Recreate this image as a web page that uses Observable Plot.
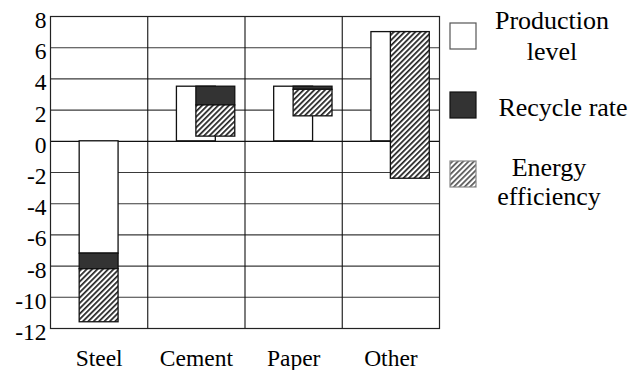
<!DOCTYPE html>
<html><head><meta charset="utf-8">
<script src="https://cdn.jsdelivr.net/npm/d3@7"></script>
<script src="https://cdn.jsdelivr.net/npm/@observablehq/plot@0.6"></script>
<style>
html,body{margin:0;padding:0;background:#fff;}
#wrap{position:relative;width:640px;height:370px;}
#legend{position:absolute;left:0;top:0;pointer-events:none;}
</style></head><body><div id="wrap"></div>
<script>
const categories = ["Steel", "Cement", "Paper", "Other"];
const production = [-7.2, 3.5, 3.5, 7.0];
const recycle = [-1.0, -1.2, -0.2, 0];
const energy = [-3.4, -2.0, -1.7, -9.4];
const yTicks = [-12, -10, -8, -6, -4, -2, 0, 2, 4, 6, 8];
const legendLines = [["Production", "level"], ["Recycle rate"], ["Energy", "efficiency"]];

const FONT = "'Liberation Serif', 'Times New Roman', serif";
const FS = 23.5;
const halfW = 0.2;   // half bar width, in category units
const shiftW = 0.2;  // sideways offset of the change bars when they oppose production

const rows = categories.map((c, i) => {
  const p = production[i], r = recycle[i], e = energy[i];
  const shift = Math.sign(r + e) !== Math.sign(p) ? shiftW : 0;
  const cx = i + 0.5;
  return {c, p, r, e, cx, sx: cx + shift};
});

const chart = Plot.plot({
  width: 640, height: 370,
  marginLeft: 50, marginRight: 201, marginTop: 16, marginBottom: 42,
  style: {fontFamily: FONT, fontSize: FS + "px", color: "black", background: "white"},
  x: {domain: [0, categories.length], ticks: categories.map((_, i) => i + 0.5),
      tickFormat: d => categories[Math.floor(d)], tickSize: 0, tickPadding: 21, label: null},
  y: {domain: [-12, 8], ticks: yTicks, tickFormat: d => String(d), tickSize: 0, tickPadding: 4, label: null},
  marks: [
    Plot.ruleY(yTicks.filter(d => d > -12 && d < 8 && d !== 0), {stroke: "#3a3a3a", strokeWidth: 1.1}),
    Plot.ruleY([0], {stroke: "#111", strokeWidth: 1.3}),
    Plot.ruleX(d3.range(1, categories.length), {stroke: "#111", strokeWidth: 1.1}),
    Plot.rectY(rows, {x1: d => d.cx - halfW, x2: d => d.cx + halfW, y1: 0, y2: d => d.p,
      fill: "white", stroke: "#111", strokeWidth: 1.3}),
    Plot.rectY(rows.filter(d => d.r !== 0), {x1: d => d.sx - halfW, x2: d => d.sx + halfW,
      y1: d => d.p, y2: d => d.p + d.r, fill: "#333", stroke: "#111", strokeWidth: 1.3}),
    Plot.rectY(rows, {x1: d => d.sx - halfW, x2: d => d.sx + halfW,
      y1: d => d.p + d.r, y2: d => d.p + d.r + d.e, fill: "url(#hatch)", stroke: "#111", strokeWidth: 1.3}),
    Plot.frame({stroke: "#222", strokeWidth: 1.2})
  ]
});

// the reference sets its y tick labels a little below their grid lines
const yLabelSet = new Set(yTicks.map(String));
d3.select(chart).selectAll("text")
  .filter(function() { return yLabelSet.has(this.textContent); })
  .each(function() {
    const a = this.getAttribute("y");
    let v = 0;
    if (a) v = /em$/.test(a) ? parseFloat(a) * FS : parseFloat(a);
    this.setAttribute("y", v + 4);
  });

function addHatch(sel, id, color) {
  const w = 3.8;
  const pat = sel.insert("defs", ":first-child").append("pattern")
    .attr("id", id).attr("patternUnits", "userSpaceOnUse")
    .attr("width", w).attr("height", w)
    .attr("patternTransform", "rotate(45)");
  pat.append("rect").attr("width", w).attr("height", w).attr("fill", "white");
  pat.append("rect").attr("width", 1.7).attr("height", w).attr("fill", color);
}
addHatch(d3.select(chart), "hatch", "#222");

const wrap = document.getElementById("wrap");
wrap.appendChild(chart);

// legend
const lg = d3.select(wrap).append("svg").attr("id", "legend")
  .attr("width", 640).attr("height", 370)
  .style("font-family", FONT).style("font-size", "26px");
addHatch(lg, "hatchL", "#555");
const sw = [
  {y: 23, fill: "white", stroke: "#555"},
  {y: 92, fill: "#333", stroke: "#111"},
  {y: 161, fill: "url(#hatchL)", stroke: "#888"}
];
const textPos = [
  {x: 552, ys: [29, 60]},
  {x: 563, ys: [116]},
  {x: 549, ys: [176, 205]}
];
sw.forEach((s, k) => {
  lg.append("rect").attr("x", 450).attr("y", s.y).attr("width", 26).attr("height", 26)
    .attr("fill", s.fill).attr("stroke", s.stroke).attr("stroke-width", 1.2);
  legendLines[k].forEach((t, j) => {
    lg.append("text").attr("x", textPos[k].x).attr("y", textPos[k].ys[j])
      .attr("text-anchor", "middle").attr("fill", "black").text(t);
  });
});
</script></body></html>
